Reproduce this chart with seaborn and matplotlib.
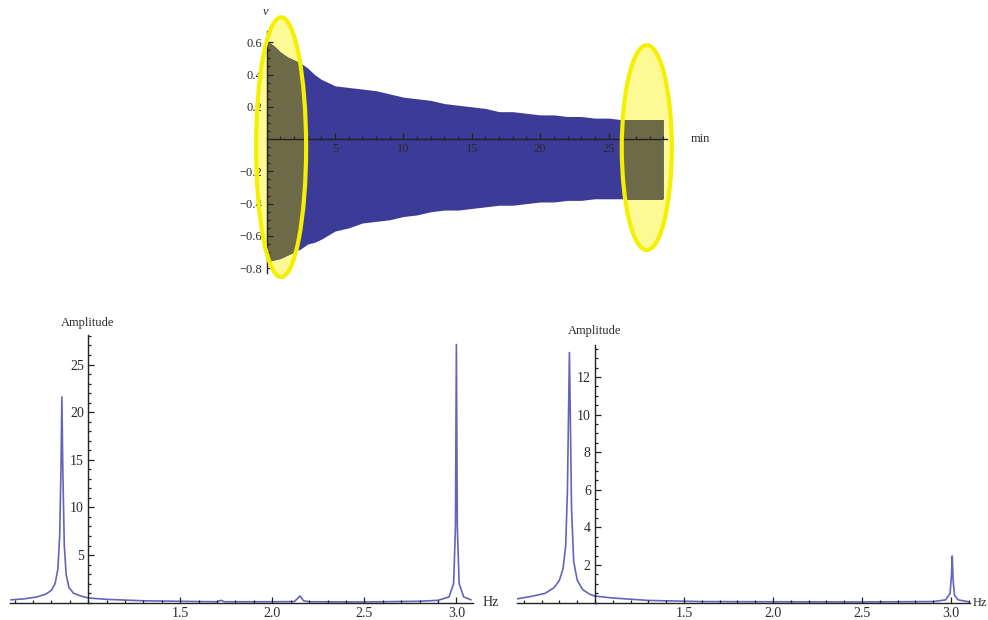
import matplotlib
matplotlib.use("Agg")
import numpy as np
import pandas as pd
import matplotlib.pyplot as plt
from matplotlib.patches import Ellipse
from matplotlib.ticker import MultipleLocator, FixedLocator
import seaborn as sns

# decaying signal envelope, time in min
t_min = [0, 0.5, 1, 1.5, 2, 2.5, 3, 3.5, 4, 5, 6, 7, 8, 9, 10, 11, 12, 13, 14,
         15, 16, 17, 18, 19, 20, 21, 22, 23, 24, 25, 26, 27, 28, 29]
v_upper = [0.61, 0.58, 0.54, 0.51, 0.49, 0.47, 0.44, 0.40, 0.37, 0.33, 0.32, 0.31,
           0.30, 0.28, 0.26, 0.25, 0.24, 0.22, 0.21, 0.20, 0.19, 0.17, 0.17, 0.16,
           0.15, 0.15, 0.14, 0.14, 0.13, 0.13, 0.12, 0.12, 0.12, 0.12]
v_lower = [-0.76, -0.75, -0.74, -0.72, -0.70, -0.68, -0.65, -0.64, -0.62, -0.57,
           -0.55, -0.52, -0.51, -0.50, -0.48, -0.47, -0.45, -0.44, -0.44, -0.43,
           -0.42, -0.41, -0.41, -0.40, -0.39, -0.39, -0.38, -0.38, -0.37, -0.37,
           -0.37, -0.37, -0.37, -0.37]

# spectrum of the start of the record
freq_a = [0.58, 0.65, 0.72, 0.77, 0.80, 0.82, 0.835, 0.845, 0.852, 0.857, 0.862,
          0.87, 0.88, 0.895, 0.92, 0.96, 1.0, 1.1, 1.3, 1.6, 1.70, 1.72, 1.74, 2.0,
          2.12, 2.15, 2.17, 2.2, 2.5, 2.8, 2.9, 2.96, 2.985, 2.995, 3.0, 3.005,
          3.015, 3.04, 3.08]
amp_a = [0.3, 0.4, 0.6, 0.9, 1.3, 2.0, 3.5, 7.0, 14.0, 21.6, 14.0, 6.0, 3.0, 1.6,
         1.0, 0.7, 0.5, 0.35, 0.2, 0.12, 0.1, 0.25, 0.1, 0.1, 0.12, 0.7, 0.2, 0.1,
         0.08, 0.15, 0.25, 0.6, 2.0, 8.0, 27.1, 8.0, 2.0, 0.6, 0.3]

# spectrum of the end of the record
freq_b = [0.56, 0.65, 0.72, 0.77, 0.80, 0.82, 0.835, 0.845, 0.851, 0.856, 0.861,
          0.868, 0.88, 0.90, 0.93, 0.97, 1.0, 1.1, 1.3, 1.6, 2.0, 2.5, 2.9, 2.97,
          2.995, 3.003, 3.007, 3.012, 3.02, 3.04, 3.1]
amp_b = [0.2, 0.35, 0.5, 0.8, 1.2, 1.8, 3.0, 6.0, 10.0, 13.3, 10.0, 5.0, 2.2, 1.2,
         0.7, 0.45, 0.35, 0.25, 0.12, 0.06, 0.05, 0.04, 0.06, 0.15, 0.5, 1.5, 2.48,
         1.2, 0.4, 0.15, 0.05]

sns.set_style("white")
plt.rcParams['font.family'] = ['Liberation Serif', 'DejaVu Serif']

navy = '#3c3c98'
olive = '#6d6a48'
line_c = '#6464bc'
txt_c = '#2a2a2a'

fig = plt.figure(figsize=(9.88, 6.2), dpi=100)
ax_top = fig.add_axes([0.27, 0.5597, 0.4054, 0.3903])
ax_l = fig.add_axes([0.0101, 0.0279, 0.4686, 0.4318])
ax_r = fig.add_axes([0.523, 0.0279, 0.4588, 0.4156])


def math_axes(ax, x0, y0, fs):
    for s in ['top', 'right']:
        ax.spines[s].set_visible(False)
    for s in ['left', 'bottom']:
        ax.spines[s].set_color('#222222')
        ax.spines[s].set_linewidth(1.0)
        ax.spines[s].set_zorder(3)
    ax.spines['left'].set_position(('data', x0))
    ax.spines['bottom'].set_position(('data', y0))
    ax.set_axisbelow(False)
    ax.tick_params(which='both', direction='in', color='#222222', width=0.9,
                   bottom=True, left=True, top=False, right=False,
                   labelsize=fs, labelcolor=txt_c, pad=3)
    ax.tick_params(which='major', length=4.5)
    ax.tick_params(which='minor', length=2.5)
    ax.set_facecolor('none')
    ax.set_xlabel('')
    ax.set_ylabel('')


# top: signal
df_sig = pd.DataFrame({'t': t_min, 'up': v_upper, 'lo': v_lower})
ell1 = Ellipse((1.05, -0.05), 3.66, 1.61, facecolor='#fdfa96', edgecolor='none',
               zorder=0.9, clip_on=False)
ell2 = Ellipse((27.8, -0.053), 3.66, 1.27, facecolor='#fdfa96', edgecolor='none',
               zorder=0.9, clip_on=False)
ax_top.add_patch(ell1)
ax_top.add_patch(ell2)
ax_top.fill_between(df_sig.t, df_sig.lo, df_sig.up, color=navy, lw=0, zorder=1)
for e in (ell1, ell2):
    p = ax_top.fill_between(df_sig.t, df_sig.lo, df_sig.up, color=olive, lw=0, zorder=1.2)
    p.set_clip_path(e)
for e in (ell1, ell2):
    ax_top.add_patch(Ellipse(e.center, e.width, e.height, facecolor='none',
                             edgecolor='#f4f000', lw=3, zorder=4, clip_on=False))
ax_top.set_xlim(0, 29.3)
ax_top.set_ylim(-0.83, 0.67)
math_axes(ax_top, 0, 0, 9)
ax_top.xaxis.set_major_locator(FixedLocator([5, 10, 15, 20, 25]))
ax_top.xaxis.set_minor_locator(MultipleLocator(1))
ax_top.yaxis.set_major_locator(FixedLocator([-0.8, -0.6, -0.4, -0.2, 0.2, 0.4, 0.6]))
ax_top.yaxis.set_minor_locator(MultipleLocator(0.05))
ax_top.text(31.0, 0, 'min', fontsize=9, color=txt_c, ha='left', va='center')
ax_top.text(-0.1, 0.79, 'v', fontsize=9, color=txt_c, style='italic',
            ha='center', va='center', clip_on=False)

# bottom: spectra
for ax, f, a, xl, yl, ymaj, ymin, lab_y, hz_x, hz_fs in [
        (ax_l, freq_a, amp_a, (0.575, 3.09), (0, 28.1), 5, 1, 29.4, 3.14, 10),
        (ax_r, freq_b, amp_b, (0.56, 3.107), (0, 13.7), 2, 0.5, 14.45, 3.12, 9)]:
    sns.lineplot(x=f, y=a, ax=ax, color=line_c, lw=1.2, estimator=None,
                 sort=False, zorder=2)
    ax.set_xlim(*xl)
    ax.set_ylim(*yl)
    math_axes(ax, 1.0, 0, 10)
    ax.xaxis.set_major_locator(FixedLocator([1.5, 2.0, 2.5, 3.0]))
    ax.xaxis.set_minor_locator(MultipleLocator(0.1))
    ax.yaxis.set_major_locator(MultipleLocator(ymaj))
    ax.yaxis.set_minor_locator(MultipleLocator(ymin))
    ax.set_yticks([v for v in ax.get_yticks() if 0 < v <= yl[1]])
    ax.xaxis.set_major_formatter(matplotlib.ticker.FormatStrFormatter('%.1f'))
    ax.text(0.995, lab_y, 'Amplitude', fontsize=9, color=txt_c, ha='center',
            va='center', clip_on=False)
    ax.text(hz_x, 0, 'Hz', fontsize=hz_fs, color=txt_c, ha='left', va='center',
            clip_on=False)

fig.savefig('out.png', dpi=100)
